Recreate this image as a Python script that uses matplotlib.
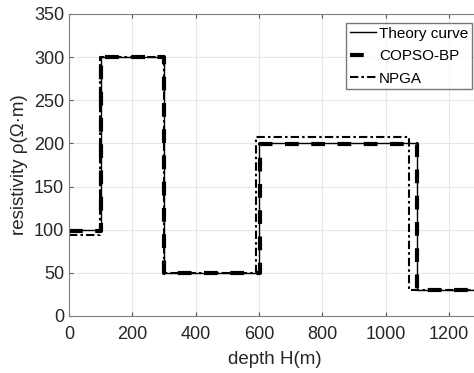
import numpy as np
import matplotlib
matplotlib.use('Agg')
from matplotlib import pyplot as plt

# layer boundaries (m) and resistivities (ohm m)
theory_depth = [0, 100, 300, 600, 1100, 1300]
theory_rho = [100, 300, 50, 200, 30]

copso_depth = [0, 101, 300, 602, 1100, 1300]
copso_rho = [99, 300, 50, 199, 30]

npga_depth = [0, 98, 300, 590, 1073, 1300]
npga_rho = [94, 300, 50, 207, 30]


def steps(depth, rho):
    x = np.repeat(depth, 2)[1:-1]
    y = np.repeat(rho, 2)
    return x, y


plt.rcParams['font.family'] = ['Liberation Sans', 'DejaVu Sans']
fig = plt.figure(figsize=(4.74, 3.73), dpi=100)
ax = fig.add_axes([69 / 474, 57 / 373, 411.7 / 474, 302 / 373])

x, y = steps(theory_depth, theory_rho)
ax.plot(x, y, color='black', lw=1.0, label='Theory curve')
x, y = steps(copso_depth, copso_rho)
ax.plot(x, y, color='black', lw=3.0, ls=(0, (3.3, 3)), label='COPSO-BP')
x, y = steps(npga_depth, npga_rho)
ax.plot(x, y, color='black', lw=1.5, ls=(0, (4, 1.5, 1.2, 1.5)), label='NPGA')

ax.set_xlim(0, 1300)
ax.set_ylim(0, 350)
ax.set_xticks(np.arange(0, 1201, 200))
ax.set_yticks(np.arange(0, 351, 50))
ax.grid(True, color='#e6e6e6', lw=0.8)
ax.tick_params(direction='in', top=True, right=True, labelsize=13, color='#555555',
               labelcolor='#262626', length=3)
ax.tick_params(axis='x', pad=7)
for s in ax.spines.values():
    s.set_color('#808080')
ax.set_xlabel('depth H(m)', fontsize=13.5, color='#262626', labelpad=6)
ax.set_ylabel('resistivity ρ(Ω·m)', fontsize=13.5, color='#262626', labelpad=4)

leg = ax.legend(loc='upper right', bbox_to_anchor=(472 / 474, 1 - 23 / 373),
                bbox_transform=fig.transFigure, fontsize=11, frameon=True,
                fancybox=False, edgecolor='#555555', handlelength=1.7,
                handletextpad=0.2, borderpad=0.25, labelspacing=0.55, borderaxespad=0)
leg.get_frame().set_linewidth(1.0)

fig.savefig('out.png', dpi=100)
